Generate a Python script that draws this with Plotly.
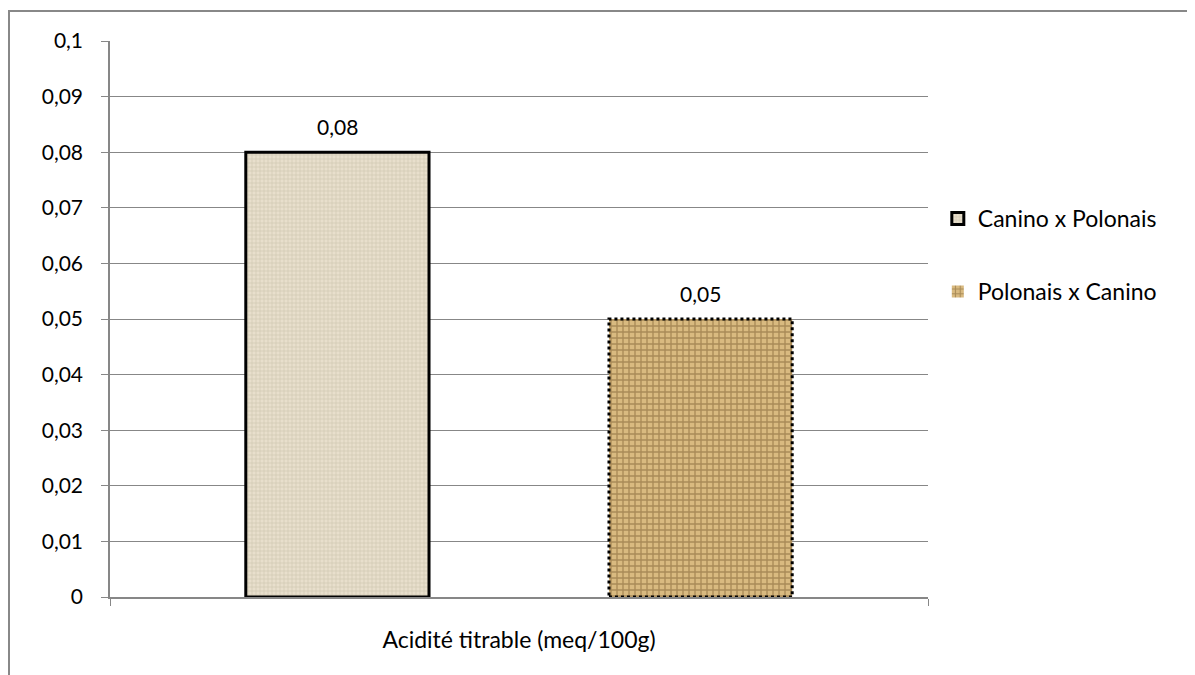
import plotly.graph_objects as go

categories = ["Acidité titrable (meq/100g)"]
series_names = ["Canino x Polonais", "Polonais x Canino"]
series_values = [[0.08], [0.05]]
y_ticks = [0, 0.01, 0.02, 0.03, 0.04, 0.05, 0.06, 0.07, 0.08, 0.09, 0.1]
y_ticktext = ["0", "0,01", "0,02", "0,03", "0,04", "0,05", "0,06", "0,07", "0,08", "0,09", "0,1"]

# bar layout (fraction of category width)
bar_w = 0.224
bar_sep = 0.444

grid = "#878787"
font = "Lato, 'Open Sans', sans-serif"
fs = 21
fs_big = 23

centers = [-bar_sep / 2, bar_sep / 2]
styles = [
    dict(color="#E6DDCA", line=dict(color="black", width=3),
         pattern=dict(shape="+", fgcolor="#B8AD95", bgcolor="#E8DFCC", size=4, solidity=0.3)),
    dict(color="#CFAE74", line=dict(color="rgba(0,0,0,0)", width=0),
         pattern=dict(shape="+", fgcolor="#7A5B2E", bgcolor="#D9BA80", size=6, solidity=0.4)),
]

fig = go.Figure()
for i, vals in enumerate(series_values):
    fig.add_trace(go.Bar(
        name=series_names[i], x=categories, y=vals,
        width=bar_w, offset=centers[i] - bar_w / 2,
        marker=styles[i], legendgroup=f"g{i}",
    ))

# dotted outline for second series
c = centers[1]
v = series_values[1][0]
fig.add_shape(type="rect", xref="x", yref="y", x0=c - bar_w / 2, x1=c + bar_w / 2, y0=0, y1=v,
              line=dict(color="black", width=3, dash="dot"), layer="above")

# data labels
for i, vals in enumerate(series_values):
    fig.add_annotation(x=centers[i], y=vals[0], xref="x", yref="y",
                       text=f"{vals[0]:.2f}".replace(".", ","), showarrow=False,
                       yanchor="bottom", yshift=11, font=dict(size=fs, color="black", family=font))

# outer chart frame
fig.add_shape(type="rect", xref="paper", yref="paper",
              x0=(9 - 110) / 818, x1=1.5, y0=-0.5, y1=1 + (41 - 11) / 556,
              line=dict(color="#888888", width=2), layer="below")

fig.update_layout(
    width=1195, height=675,
    margin=dict(l=102, r=275, t=33, b=86),
    paper_bgcolor="white", plot_bgcolor="white",
    barmode="overlay",
    separators=", ",
    font=dict(family=font, size=fs, color="black"),
    showlegend=True,
    legend=dict(x=1.012, y=0.615, xanchor="left", yanchor="middle",
                tracegroupgap=40, font=dict(size=fs_big), itemwidth=30,
                bgcolor="rgba(0,0,0,0)"),
    xaxis=dict(type="category", tickson="boundaries", ticks="outside", ticklen=7,
               tickcolor=grid, showline=True, linecolor=grid, linewidth=1.5,
               showgrid=False, ticklabelstandoff=22, tickfont=dict(size=fs_big),
               range=[-0.5, 0.5]),
    yaxis=dict(range=[0, 0.1], tickvals=y_ticks, ticktext=y_ticktext,
               ticks="outside", ticklen=7, tickcolor=grid,
               showline=True, linecolor=grid, linewidth=1.5,
               showgrid=True, gridcolor=grid, gridwidth=1,
               zeroline=False, ticklabelstandoff=14, tickfont=dict(size=fs)),
)

fig.write_html("out.html")
